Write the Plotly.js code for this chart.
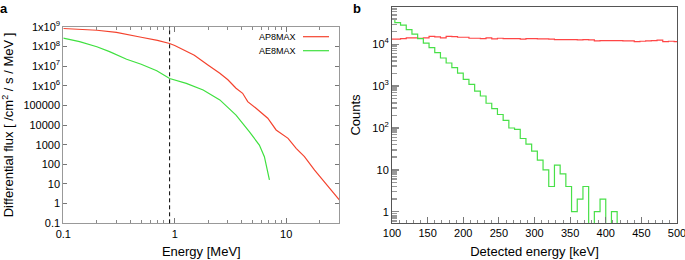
<!DOCTYPE html>
<html>
<head>
<meta charset="utf-8">
<script src="https://cdn.plot.ly/plotly-3.0.1.min.js"></script>
<style>
html,body{margin:0;padding:0;background:#fff;}
#chart{width:685px;height:260px;}
</style>
</head>
<body>
<div id="chart"></div>
<script>
// ---- Panel a: differential flux spectra ----
const energyAP8 = [0.1, 0.15, 0.2, 0.3, 0.4, 0.5, 0.7, 0.9, 1.0, 1.5, 2.0, 2.54, 3.0, 3.55, 4.07, 4.52, 5.37, 6.84, 8.13, 10.4, 12.3, 14.6, 18.0, 21.4, 26.3, 30];
const fluxAP8 = [8.1e8, 7.4e8, 6.6e8, 5.1e8, 3.9e8, 2.9e8, 2.0e8, 1.4e8, 1.1e8, 3.5e7, 1.1e7, 4.3e6, 2.0e6, 7.4e5, 4.1e5, 1.55e5, 7.1e4, 2.2e4, 5600, 2100, 650, 245, 51, 15.8, 4.1, 1.55];
const energyAE8 = [0.1, 0.14, 0.2, 0.26, 0.37, 0.5, 0.69, 0.9, 1.27, 1.8, 2.54, 3.55, 4.67, 5.75, 6.38, 6.84, 7.08];
const fluxAE8 = [2.6e8, 1.74e8, 9.5e7, 5.4e7, 2.2e7, 1.23e7, 5.8e6, 2.3e6, 1.3e6, 6.0e5, 1.9e5, 3.2e4, 4600, 950, 245, 42, 16];
const thresholdEnergy = 0.9;
const energyTickVals = [0.1, 1, 10];
const energyTickText = ['0.1', '1', '10'];
const energyMinorTicks = [0.2,0.3,0.4,0.5,0.6,0.7,0.8,0.9,2,3,4,5,6,7,8,9,20,30];
const fluxTickVals = [0.1, 1, 10, 100, 1000, 10000, 100000, 1e6, 1e7, 1e8, 1e9];
const fluxTickText = ['0.1', '1', '10', '100', '1000', '10000', '100000', '1x10<sup>6</sup>', '1x10<sup>7</sup>', '1x10<sup>8</sup>', '1x10<sup>9</sup>'];
const legendNames = ['AP8MAX', 'AE8MAX'];

// ---- Panel b: detected energy histograms (8 keV bins) ----
const binStart = [96,104,112,120,128,136,144,152,160,168,176,184,192,200,208,216,224,232,240,248,256,264,272,280,288,296,304,312,320,328,336,344,352,360,368,376,384,392,400,408,416,424,432,440,448,456,464,472,480,488,496];
const binLastEnd = 504;
const countsProton = [13200,13200,13700,14200,14200,13900,14200,15500,15000,14200,
  15500,15200,14700,14700,13900,13900,13700,14200,13400,13900,
  13700,13700,13700,13200,13700,13700,13400,13400,13200,12900,
  12900,12900,12900,12700,12900,12700,12000,12200,12200,12200,
  12200,12000,12000,11600,11800,12000,12200,12500,11600,11800,11600];
const countsElectron = [39800,33000,28500,22300,17400,13700,10700,8300,6300,4700,
  3570,2770,2050,1450,1100,760,580,390,290,210,
  152,100,93,56,41,28,17,10,4,13,
  8,4,1,2,4,0,1,2,0,1,
  0,0,0,0,0,0,0,0,0,0,0];
const detTickVals = [100,150,200,250,300,350,400,450,500];
const countTickVals = [1, 10, 100, 1000, 10000];
const countTickText = ['1', '10', '10<sup>2</sup>', '10<sup>3</sup>', '10<sup>4</sup>'];
const countMinorTicks = [0.6,0.7,0.8,0.9,2,3,4,5,6,7,8,9,20,30,40,50,60,70,80,90,200,300,400,500,600,700,800,900,2000,3000,4000,5000,6000,7000,8000,9000,20000,30000,40000,50000,60000,70000];

const RED_A = '#f4432e', GREEN_A = '#3fe03f';
const RED_B = '#ff4545', GREEN_B = '#48e048';
const FONT = 'Liberation Sans, Arial, Helvetica, sans-serif';

function stepX(starts, endEdge) { return starts.concat([endEdge]); }
function stepY(vals) {
  // zero counts cannot be shown on a log axis: send them below the visible range
  const v = vals.map(c => c > 0 ? c : 1e-3);
  return v.concat([v[v.length - 1]]);
}

const traces = [
  {x: energyAP8, y: fluxAP8, xaxis: 'x', yaxis: 'y', type: 'scatter', mode: 'lines',
   name: legendNames[0], line: {color: RED_A, width: 1.2}, showlegend: false},
  {x: energyAE8, y: fluxAE8, xaxis: 'x', yaxis: 'y', type: 'scatter', mode: 'lines',
   name: legendNames[1], line: {color: GREEN_A, width: 1.2}, showlegend: false},
  {x: stepX(binStart, binLastEnd), y: stepY(countsProton), xaxis: 'x2', yaxis: 'y2', type: 'scatter', mode: 'lines',
   name: 'protons', line: {color: RED_B, width: 1.2, shape: 'hv'}, showlegend: false},
  {x: stepX(binStart, binLastEnd), y: stepY(countsElectron), xaxis: 'x2', yaxis: 'y2', type: 'scatter', mode: 'lines',
   name: 'electrons', line: {color: GREEN_B, width: 1.2, shape: 'hv'}, showlegend: false}
];

const W = 685, H = 260;
const px = v => v / W, py = v => 1 - v / H;

const layout = {
  width: W, height: H,
  margin: {l: 0, r: 0, t: 0, b: 0},
  paper_bgcolor: '#fff', plot_bgcolor: '#fff',
  font: {family: FONT, size: 11, color: '#000'},
  showlegend: false,
  xaxis: {
    type: 'log', domain: [px(63.3), px(339.3)], range: [-1, Math.log10(30)],
    anchor: 'y', showgrid: false, zeroline: false,
    showline: true, linecolor: '#999', linewidth: 1, mirror: 'allticks',
    ticks: 'inside', ticklen: 5, tickcolor: '#777', tickwidth: 1,
    tickmode: 'array', tickvals: energyTickVals, ticktext: energyTickText,
    minor: {ticks: 'inside', ticklen: 3, tickcolor: '#888', tickmode: 'array', tickvals: energyMinorTicks, showgrid: false},
    tickfont: {size: 11, family: FONT},
    title: {text: 'Energy [MeV]', font: {size: 13, family: FONT}, standoff: 8}
  },
  yaxis: {
    type: 'log', domain: [py(223.3), py(26.7)], range: [-1, 9],
    anchor: 'x', showgrid: false, zeroline: false,
    showline: true, linecolor: '#999', linewidth: 1, mirror: 'allticks',
    ticks: 'inside', ticklen: 4, tickcolor: '#777', tickwidth: 1,
    tickmode: 'array', tickvals: fluxTickVals, ticktext: fluxTickText,
    tickfont: {size: 11, family: FONT},
    title: {text: 'Differential flux [ /cm<sup>2</sup> / s / MeV ]', font: {size: 13, family: FONT}, standoff: 6}
  },
  xaxis2: {
    type: 'linear', domain: [px(392), px(677)], range: [100, 500],
    anchor: 'y2', showgrid: false, zeroline: false,
    showline: true, linecolor: '#555', linewidth: 1, mirror: true,
    ticks: 'inside', ticklen: 6, tickcolor: '#777', tickwidth: 1,
    tickmode: 'array', tickvals: detTickVals, ticklabeloverflow: 'allow',
    minor: {ticks: 'inside', ticklen: 3, tickcolor: '#888', dtick: 10, showgrid: false},
    tickfont: {size: 11, family: FONT},
    title: {text: 'Detected energy [keV]', font: {size: 13, family: FONT}, standoff: 8}
  },
  yaxis2: {
    type: 'log', domain: [py(223), py(7)], range: [-0.27, 4.89],
    anchor: 'x2', showgrid: false, zeroline: false,
    showline: true, linecolor: '#555', linewidth: 1, mirror: true,
    ticks: 'inside', ticklen: 7, tickcolor: '#888', tickwidth: 1.5,
    tickmode: 'array', tickvals: countTickVals, ticktext: countTickText,
    minor: {ticks: 'inside', ticklen: 5, tickcolor: '#999', tickmode: 'array', tickvals: countMinorTicks, showgrid: false},
    tickfont: {size: 11, family: FONT},
    title: {text: 'Counts', font: {size: 13, family: FONT}, standoff: 8}
  },
  shapes: [
    {type: 'line', xref: 'x', yref: 'y domain', x0: thresholdEnergy, x1: thresholdEnergy, y0: 0, y1: 1,
     line: {color: '#000', width: 1, dash: '4px,3px'}},
    {type: 'line', xref: 'paper', yref: 'paper', x0: px(303), x1: px(329), y0: py(36.7), y1: py(36.7),
     line: {color: RED_A, width: 1.2}},
    {type: 'line', xref: 'paper', yref: 'paper', x0: px(303), x1: px(329), y0: py(50.7), y1: py(50.7),
     line: {color: GREEN_A, width: 1.2}}
  ],
  annotations: [
    {text: '<b>a</b>', xref: 'paper', yref: 'paper', x: px(4), y: py(9), xanchor: 'center', yanchor: 'middle',
     showarrow: false, font: {size: 13, family: FONT}},
    {text: '<b>b</b>', xref: 'paper', yref: 'paper', x: px(357), y: py(8), xanchor: 'center', yanchor: 'middle',
     showarrow: false, font: {size: 13, family: FONT}},
    {text: legendNames[0], xref: 'paper', yref: 'paper', x: px(298), y: py(36.7), xanchor: 'right', yanchor: 'middle',
     showarrow: false, font: {size: 9, family: FONT}},
    {text: legendNames[1], xref: 'paper', yref: 'paper', x: px(298), y: py(50.7), xanchor: 'right', yanchor: 'middle',
     showarrow: false, font: {size: 9, family: FONT}}
  ]
};

Plotly.newPlot('chart', traces, layout, {staticPlot: true, displayModeBar: false});
</script>
</body>
</html>
